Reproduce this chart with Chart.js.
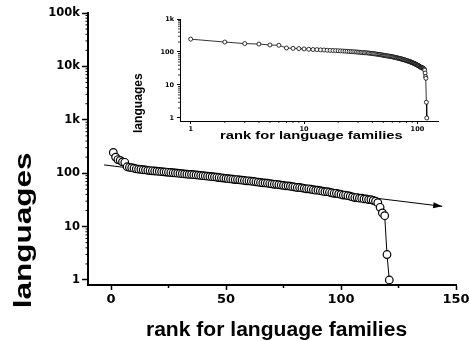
<!DOCTYPE html>
<html>
<head>
<meta charset="utf-8">
<script src="https://cdn.jsdelivr.net/npm/chart.js@4/dist/chart.umd.min.js"></script>
<style>
  html, body { margin: 0; padding: 0; background: #fff; }
  #wrap { position: relative; width: 469px; height: 341px; background: #fff; }
  #wrap canvas { position: absolute; left: 0; top: 0; }
</style>
</head>
<body>
<div id="wrap">
  <canvas id="main" width="469" height="341"></canvas>
  <canvas id="inset" width="469" height="341"></canvas>
</div>
<script>
// Number of languages in each family, sorted from largest to smallest family
const languageCounts = [
  245, 200, 180, 174, 163, 160, 132, 129, 127, 124,
  121, 119, 118, 116, 115, 113, 112, 111, 110, 109,
  108, 107, 106, 105, 104, 103, 102, 101, 100, 99,
  98, 97, 96, 95, 95, 94, 93, 92, 91, 90,
  89, 88, 87, 86, 85, 84, 83, 82, 81, 80,
  79, 78, 77, 76, 76, 75, 74, 73, 72, 72,
  71, 70, 69, 68, 67, 66, 66, 65, 64, 63,
  62, 62, 61, 60, 59, 58, 58, 57, 56, 55,
  54, 54, 53, 52, 51, 51, 50, 49, 48, 48,
  47, 46, 45, 45, 44, 43, 42, 42, 41, 40,
  39, 39, 38, 37, 36, 35, 35, 34, 34, 33,
  33, 32, 32, 31, 30, 28, 23, 18, 16, 3, 1
];
// Rank of each family (1 = largest)
const familyRanks = languageCounts.map((_, i) => i + 1);

// Exponential trend line (straight on the log axis), drawn as an arrow
const trendRanks = [-3, 144];
const trendValues = [143, 24];

// Axis ticks
const mainXTicks = [0, 50, 100, 150];
const mainXMinorTicks = [25, 75, 125];
const mainYTicks = [1, 10, 100, 1000, 10000, 100000];
const mainYLabels = ['1', '10', '100', '1k', '10k', '100k'];
const insetXTicks = [1, 10, 100];
const insetXLabels = ['1', '10', '100'];
const insetYTicks = [1, 10, 100, 1000];
const insetYLabels = ['1', '10', '100', '1k'];

const familyPoints = familyRanks.map((r, i) => ({ x: r, y: languageCounts[i] }));
const trendPoints = trendRanks.map((r, i) => ({ x: r, y: trendValues[i] }));

function logMinors(decades) {
  const out = [];
  decades.forEach(d => { for (let k = 2; k <= 9; k++) out.push(d * k); });
  return out;
}

function drawMinor(chart, id, values, len, width) {
  const s = chart.scales[id];
  const ctx = chart.ctx;
  const a = chart.chartArea;
  ctx.save();
  ctx.strokeStyle = '#000';
  ctx.lineWidth = width;
  ctx.beginPath();
  values.forEach(v => {
    if (v < s.min || v > s.max) return;
    const p = s.getPixelForValue(v);
    if (s.isHorizontal()) {
      ctx.moveTo(p, a.bottom); ctx.lineTo(p, a.bottom + len);
    } else {
      ctx.moveTo(a.left, p); ctx.lineTo(a.left - len, p);
    }
  });
  ctx.stroke();
  ctx.restore();
}

// Draw text whose ink box is centred on (cx, cy) and stretched to a given length
function drawText(ctx, text, font, cx, cy, length, rotate) {
  ctx.save();
  ctx.font = font;
  ctx.fillStyle = '#000';
  ctx.textBaseline = 'alphabetic';
  ctx.textAlign = 'left';
  const m = ctx.measureText(text);
  const w = m.actualBoundingBoxLeft + m.actualBoundingBoxRight;
  const asc = m.actualBoundingBoxAscent, desc = m.actualBoundingBoxDescent;
  ctx.translate(cx, cy);
  if (rotate) ctx.rotate(-Math.PI / 2);
  ctx.scale(length / w, 1);
  ctx.fillText(text, -w / 2 + m.actualBoundingBoxLeft, (asc - desc) / 2);
  ctx.restore();
}

const tickFont = (size) => ({ family: 'DejaVu Sans', weight: 'bold', size: size });

const mainDecor = {
  id: 'mainDecor',
  afterDatasetsDraw(chart) {
    // arrow head at the end of the trend line
    const meta = chart.getDatasetMeta(1);
    const p0 = meta.data[0], p1 = meta.data[meta.data.length - 1];
    const ang = Math.atan2(p1.y - p0.y, p1.x - p0.x);
    const ctx = chart.ctx;
    ctx.save();
    ctx.translate(p1.x, p1.y);
    ctx.rotate(ang);
    ctx.fillStyle = '#000';
    ctx.beginPath();
    ctx.moveTo(0, 0);
    ctx.lineTo(-9, -3);
    ctx.lineTo(-9, 3);
    ctx.closePath();
    ctx.fill();
    ctx.restore();
  },
  afterDraw(chart) {
    drawMinor(chart, 'x', mainXMinorTicks, 3, 1.5);
    drawMinor(chart, 'y', logMinors([1, 10, 100, 1000, 10000]), 2.5, 1);
    const ctx = chart.ctx;
    drawText(ctx, 'languages', 'bold 24px "Liberation Sans", Arial, sans-serif', 24, 230, 154, true);
    drawText(ctx, 'rank for language families', 'bold 20px "Liberation Sans", Arial, sans-serif', 277, 330, 260, false);
  }
};

const insetDecor = {
  id: 'insetDecor',
  afterDraw(chart) {
    drawMinor(chart, 'x', logMinors([1, 10]), 2, 0.8);
    drawMinor(chart, 'y', logMinors([1, 10, 100]), 2, 0.8);
    const ctx = chart.ctx;
    drawText(ctx, 'languages', 'bold 12px "Liberation Sans", Arial, sans-serif', 138.5, 103, 60, true);
    drawText(ctx, 'rank for language families', 'bold 10.5px "Liberation Sans", Arial, sans-serif', 311.5, 136, 183, false);
  }
};

const common = {
  responsive: false,
  animation: false,
  events: [],
  plugins: { legend: { display: false }, tooltip: { enabled: false } }
};

new Chart(document.getElementById('main'), {
  type: 'scatter',
  data: {
    datasets: [
      {
        data: familyPoints,
        showLine: true,
        borderColor: '#000',
        borderWidth: 1,
        pointRadius: 3.8,
        pointBackgroundColor: '#fff',
        pointBorderColor: '#000',
        pointBorderWidth: 1.2
      },
      {
        data: trendPoints,
        showLine: true,
        borderColor: '#000',
        borderWidth: 1,
        pointRadius: 0
      }
    ]
  },
  options: Object.assign({}, common, {
    layout: { padding: { left: 0, top: 13, right: 13, bottom: 0 } },
    scales: {
      x: {
        type: 'linear', min: -10, max: 150,
        afterBuildTicks: s => { s.ticks = mainXTicks.map(v => ({ value: v })); },
        afterFit: s => { s.height = 56; s.paddingLeft = 0; s.paddingRight = 0; },
        grid: { drawOnChartArea: false, tickLength: 5, tickColor: '#000', tickWidth: 1.5 },
        border: { color: '#000', width: 2 },
        ticks: { font: tickFont(13), color: '#000', padding: 2, maxRotation: 0, autoSkip: false }
      },
      y: {
        type: 'logarithmic', min: 0.806, max: 100000,
        afterBuildTicks: s => { s.ticks = mainYTicks.map(v => ({ value: v })); },
        afterFit: s => { s.width = 88; s.paddingTop = 0; s.paddingBottom = 0; },
        grid: { drawOnChartArea: false, tickLength: 6, tickColor: '#000', tickWidth: 1.5 },
        border: { color: '#000', width: 2 },
        ticks: {
          font: tickFont(11.5), color: '#000', padding: 2, autoSkip: false,
          callback: v => mainYLabels[mainYTicks.indexOf(v)]
        }
      }
    }
  }),
  plugins: [mainDecor]
});

new Chart(document.getElementById('inset'), {
  type: 'scatter',
  data: {
    datasets: [
      {
        data: familyPoints,
        showLine: true,
        borderColor: '#000',
        borderWidth: 0.8,
        pointRadius: 2,
        pointBackgroundColor: '#fff',
        pointBorderColor: '#000',
        pointBorderWidth: 0.8
      }
    ]
  },
  options: Object.assign({}, common, {
    layout: { padding: { left: 0, top: 19, right: 31, bottom: 0 } },
    scales: {
      x: {
        type: 'logarithmic', min: 0.805, max: 152,
        afterBuildTicks: s => { s.ticks = insetXTicks.map(v => ({ value: v })); },
        afterFit: s => { s.height = 220; s.paddingLeft = 0; s.paddingRight = 0; },
        grid: { drawOnChartArea: false, tickLength: 3, tickColor: '#000', tickWidth: 1 },
        border: { color: '#000', width: 1 },
        ticks: {
          font: tickFont(6.5), color: '#000', padding: 1, maxRotation: 0, autoSkip: false,
          callback: v => insetXLabels[insetXTicks.indexOf(v)]
        }
      },
      y: {
        type: 'logarithmic', min: 0.81, max: 1000,
        afterBuildTicks: s => { s.ticks = insetYTicks.map(v => ({ value: v })); },
        afterFit: s => { s.width = 180; s.paddingTop = 0; s.paddingBottom = 0; },
        grid: { drawOnChartArea: false, tickLength: 3, tickColor: '#000', tickWidth: 1 },
        border: { color: '#000', width: 1 },
        ticks: {
          font: tickFont(6.5), color: '#000', padding: 3, autoSkip: false,
          callback: v => insetYLabels[insetYTicks.indexOf(v)]
        }
      }
    }
  }),
  plugins: [insetDecor]
});
</script>
</body>
</html>
